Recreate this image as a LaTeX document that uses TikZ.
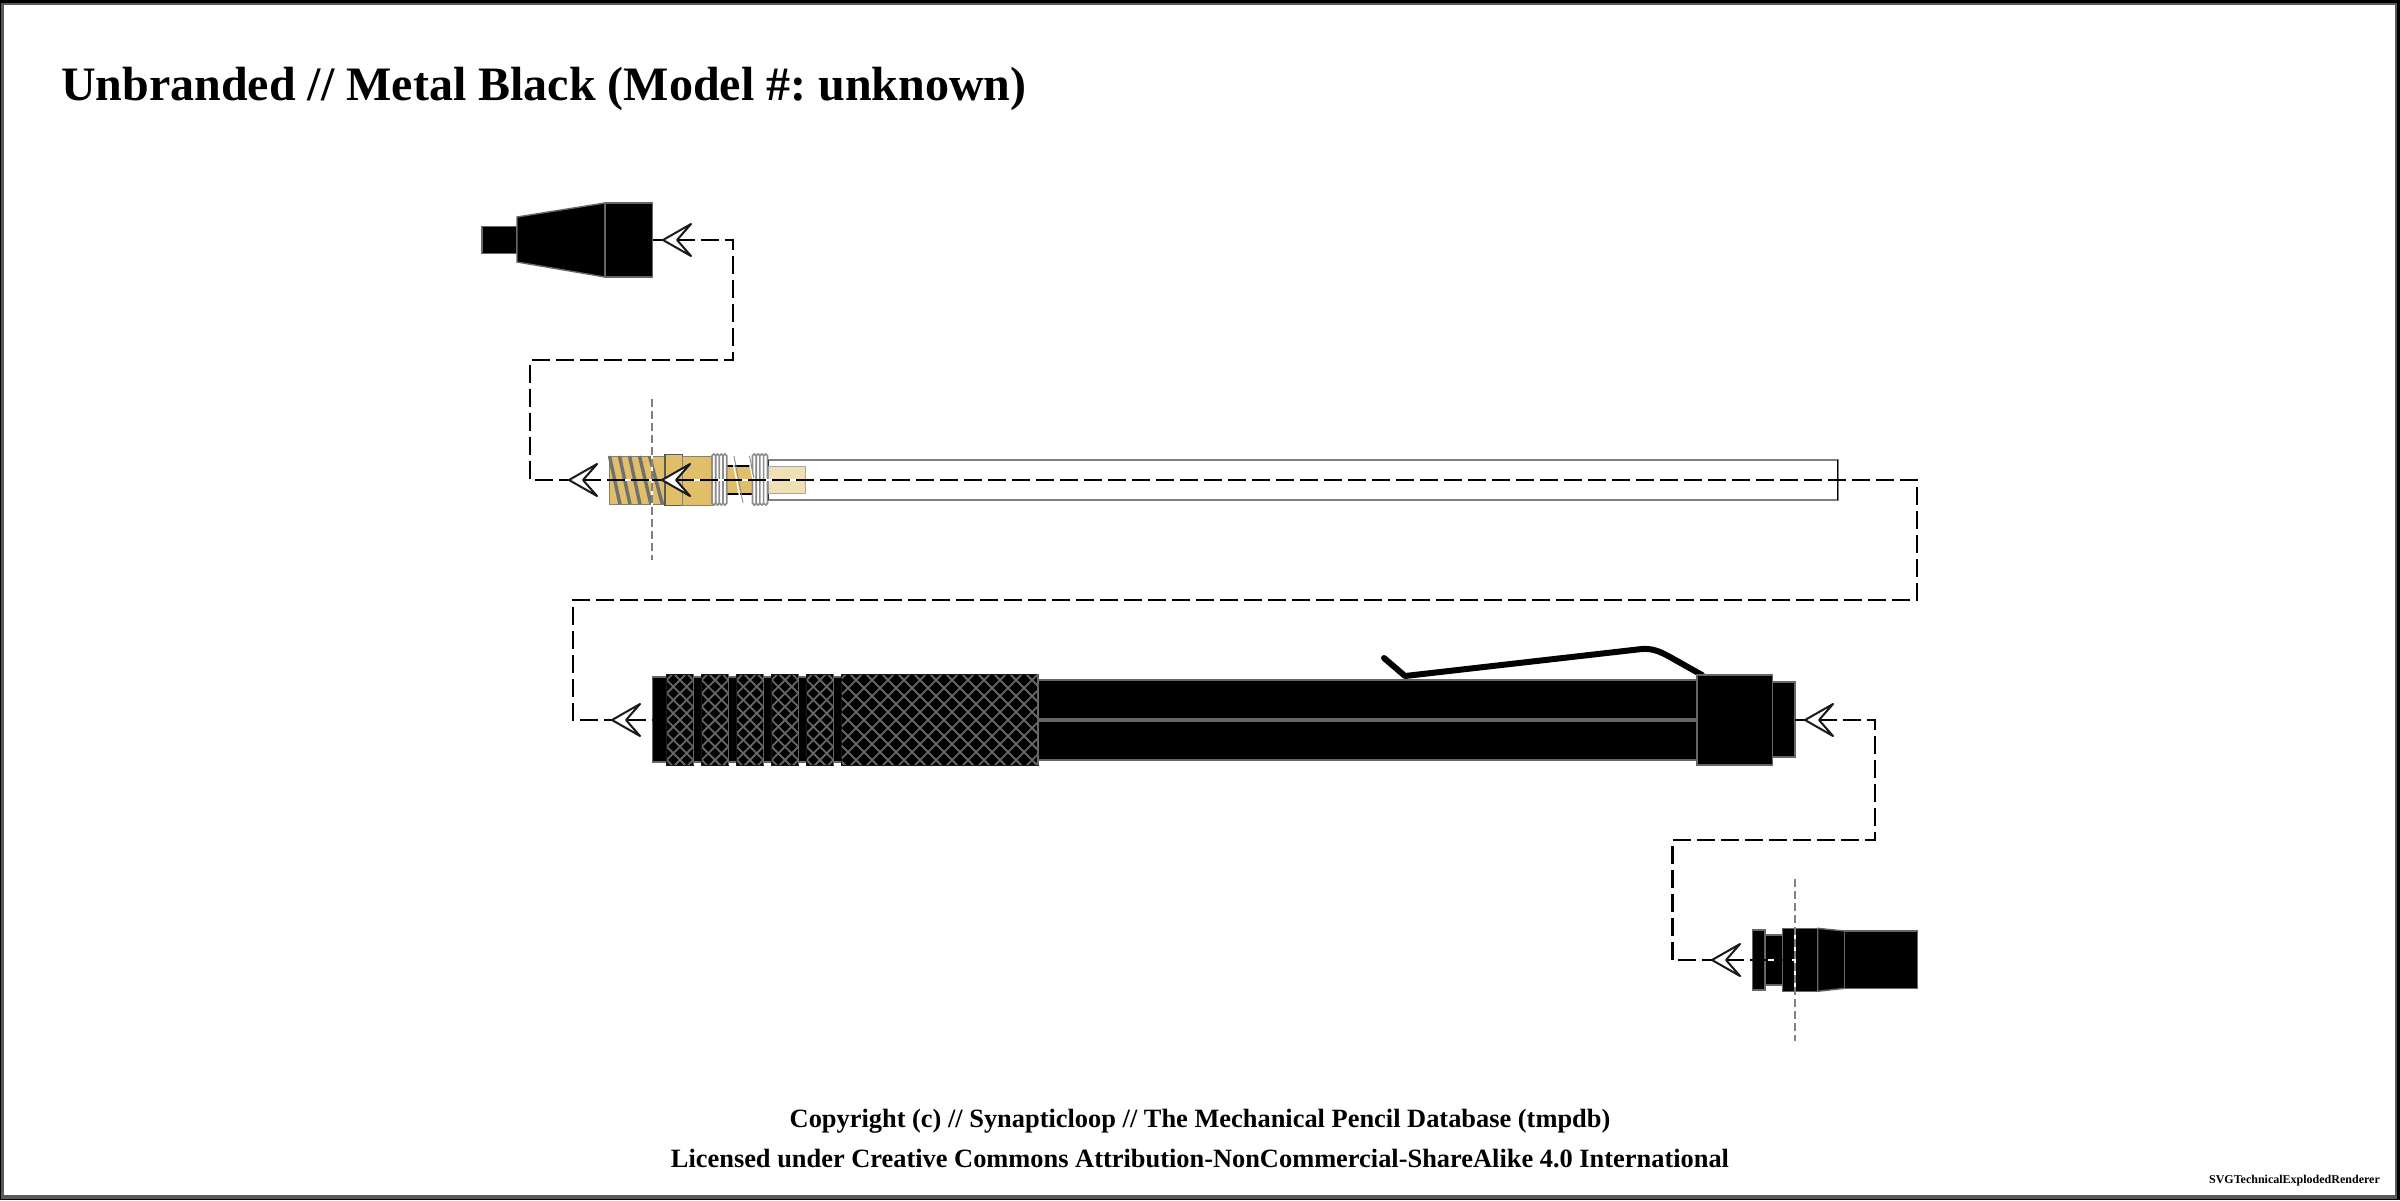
\documentclass[tikz,border=0pt]{standalone}
\usepackage{fontspec}
\setmainfont{Liberation Serif}
\frenchspacing
\tikzset{
  part/.style={fill=black,draw=partedge,line width=1.4pt,line join=miter},
  gold/.style={fill=goldfill,draw=goldedge,line width=1pt},
  flowunder/.style={white,line width=2.4pt},
  flow/.style={black,line width=2.4pt,dash pattern=on 18pt off 6pt},
  axisunder/.style={white,line width=2.6pt},
  axisline/.style={axisgray,line width=2.6pt,dash pattern=on 8pt off 4pt},
  hatchline/.style={partedge,line width=1.8pt},
  coil/.style={fill=white,draw=coilgray,line width=1.6pt,rounded corners=1.8pt},
  headhalo/.style={white,line width=5pt,fill=white,line join=round},
  headline/.style={fill=white,draw=black!90,line width=2pt,line join=round,line cap=round},
}
\definecolor{partedge}{HTML}{666666}
\definecolor{goldfill}{HTML}{E0BE6A}
\definecolor{goldedge}{HTML}{8A8068}
\definecolor{axisgray}{HTML}{808080}
\definecolor{coilgray}{HTML}{8C8C8C}
\definecolor{screw}{HTML}{707070}
\definecolor{palegold}{HTML}{F0E0B5}
\newcommand{\openhead}[2]{%
  \path[headhalo] (#1,#2) -- ++(28,-16) -- ++(-14,16) -- ++(14,16) -- cycle;
  \path[headline] (#1,#2) -- ++(28,-16) -- ++(-14,16) -- ++(14,16) -- cycle;}
% clip box a,b (x range), lattice crossing at (c,680), period d
\newcommand{\hatchbox}[4]{%
  \begin{scope}
    \clip (#1,674) rectangle (#2,765);
    \foreach \k in {-20,...,20}{
      \draw[hatchline] ({#3+\k*#4-20},660) -- ({#3+\k*#4+120},800);
      \draw[hatchline] ({#3+\k*#4+20},660) -- ({#3+\k*#4-120},800);
    }
  \end{scope}}
\begin{document}
\begin{tikzpicture}[x=1pt,y=-1pt]
\useasboundingbox (0,0) rectangle (2400,1200);
\fill[black] (0,0) rectangle (2400,1200);
\fill[black!65] (1,2.7) rectangle (2396.7,1199);
\fill[white] (4,5) rectangle (2394.7,1195);

\node[anchor=base west,font=\bfseries\fontsize{48}{48}\selectfont,inner sep=0pt] (title) at (61,100) {Unbranded // Metal Black (Model \#: unknown)};
\node[anchor=base,font=\bfseries\fontsize{26.4}{26.4}\selectfont,inner sep=0pt] (copy) at (1200,1127) {Copyright (c) // Synapticloop // The Mechanical Pencil Database (tmpdb)};
\node[anchor=base,font=\bfseries\fontsize{26.4}{26.4}\selectfont,inner sep=0pt] (lic) at (1200,1167) {Licensed under Creative Commons Attribution-NonCommercial-ShareAlike 4.0 International};
\node[anchor=base east,font=\bfseries\fontsize{12}{12}\selectfont,inner sep=0pt] (rend) at (2380,1183) {SVGTechnicalExplodedRenderer};

% tip cap
\draw[part] (482,226.5) rectangle (517,253.5);
\draw[part] (517,217) -- (605,203) -- (605,277) -- (517,262) -- cycle;
\draw[part] (605,203) rectangle (652.5,277);

% mechanism
\draw[line width=2pt,draw=axisgray,fill=white] (768,460) rectangle (1837.5,500);
\draw[line width=1pt,black] (1837.5,460) -- (1837.5,500);
\draw[line width=1pt,black] (768,460) -- (768,500);
\draw[fill=palegold,draw=black!35,line width=1pt] (768.3,466) rectangle (805,493.5);
\draw[gold] (609.5,456) rectangle (665,504.5);
\foreach \a/\b in {609.5/620,619.5/630,629.5/640,639.5/651,649.5/662.5}
  \draw[screw,line width=3.4pt] (\a,456) -- (\b,504.5);
\draw[fill=goldfill,draw=black!65,line width=1.2pt] (665,454.7) rectangle (682.3,505.3);
\draw[gold] (682.3,456) rectangle (712,505);
\draw[fill=goldfill,draw=none] (727.3,466) rectangle (752.3,494);
\draw[black,line width=2pt] (727.3,466) -- (752.3,466) (727.3,494) -- (752.3,494);
\foreach \x in {712,715.7,719.4,723}
  \draw[coil] (\x,454) rectangle ++(3.7,51);
\foreach \x in {752.5,756.2,759.9,763.6}
  \draw[coil] (\x,454) rectangle ++(3.9,51);
\draw[white,line width=1.4pt] (732,456) -- (741,503);
\draw[coilgray,line width=.9pt] (734,456) -- (743,503);
\draw[white,line width=1.4pt] (748,456) -- (753,480);
\draw[coilgray,line width=.9pt] (749.5,456) -- (754,478);

% barrel
\draw[part] (1038,680) rectangle (1697,760);
\draw[partedge,line width=3.5pt] (1038,720) -- (1697,720);
\draw[part] (652.7,677) rectangle (1038,762);
\draw[black,line width=6pt,line cap=round,line join=round]
  (1384,658) -- (1405,676) -- (1640,649.2) .. controls (1652,647.8) and (1660,651.5) .. (1670,657) -- (1702,675);
\foreach \a/\b/\c/\d in {666.7/693.3/680/13.33,701.7/728.3/715/13.33,736.7/763.3/750/13.33,771.7/798.3/785/13.33,806.7/833.3/820/13.33,841.7/1038/872/16}{
  \fill[black] (\a,674) rectangle (\b,765);
  \hatchbox{\a}{\b}{\c}{\d}
  \draw[black!90,line width=1pt] (\a,674) rectangle (\b,765);
  \draw[partedge,line width=1.2pt] (\b,674) -- (\b,765);
}
\draw[part] (1697,675) rectangle (1772.7,765);
\draw[part] (1772.7,682) rectangle (1795,757);

% end knob
\draw[part] (1752.3,930) rectangle (1765,990);
\draw[part] (1765,935) rectangle (1782.3,985);
\draw[part] (1782.3,928.3) rectangle (1817.7,991.3);
\draw[part] (1817.7,928.3) -- (1844.7,931) -- (1844.7,988.3) -- (1817.7,991.3) -- cycle;
\draw[part] (1844.7,931) rectangle (1917.7,988.3);

% axes
\coordinate (axAt) at (652,399);
\coordinate (axAb) at (652,560);
\coordinate (axBt) at (1795,879);
\coordinate (axBb) at (1795,1041);
\draw[axisunder] (axAt) -- (axAb);
\draw[axisline] (axAt) -- (axAb);
\draw[axisunder] (axBt) -- (axBb);
\draw[axisline] (axBt) -- (axBb);

% connectors
\coordinate (c1a) at (652.5,240);
\coordinate (c1b) at (733,240);
\coordinate (c1c) at (733,360);
\coordinate (c1d) at (530,360);
\coordinate (c1e) at (530,480);
\coordinate (c1f) at (652,480);
\coordinate (c2b) at (1917,480);
\coordinate (c2c) at (1917,600);
\coordinate (c2d) at (573,600);
\coordinate (c2e) at (573,720);
\coordinate (c2f) at (652.7,720);
\coordinate (c3a) at (1795,720);
\coordinate (c3b) at (1875,720);
\coordinate (c3c) at (1875,840);
\coordinate (c3d) at (1672.5,840);
\coordinate (c3e) at (1672.5,960);
\coordinate (c3f) at (1795,960);
\draw[flowunder] (c1a) -- (c1b) -- (c1c) -- (c1d) -- (c1e) -- (c1f);
\draw[flow] (c1a) -- (c1b) -- (c1c) -- (c1d) -- (c1e) -- (c1f);
\draw[flowunder] (c1f) -- (c2b) -- (c2c) -- (c2d) -- (c2e) -- (c2f);
\draw[flow] (c1f) -- (c2b) -- (c2c) -- (c2d) -- (c2e) -- (c2f);
\draw[flowunder] (c3a) -- (c3b) -- (c3c) -- (c3d) -- (c3e) -- (c3f);
\draw[flow] (c3a) -- (c3b) -- (c3c) -- (c3d) -- (c3e) -- (c3f);
\openhead{663}{240}
\openhead{569}{480}
\openhead{662}{480}
\openhead{612}{720}
\openhead{1805}{720}
\openhead{1712}{960}
\end{tikzpicture}
\end{document}
